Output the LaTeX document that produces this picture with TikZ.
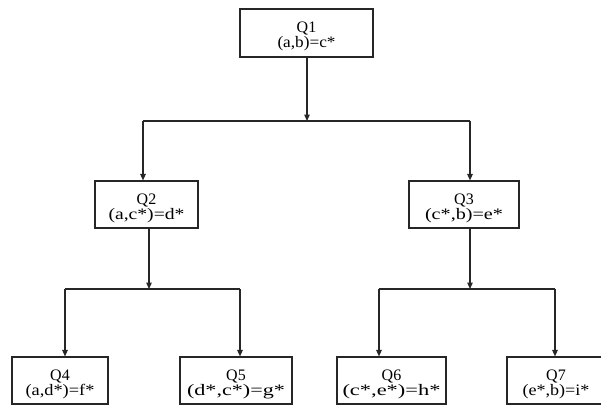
\documentclass[tikz,border=0pt]{standalone}
\usepackage{fontspec}
\setmainfont{Liberation Serif}
\usetikzlibrary{arrows.meta}
\newcommand{\fitw}[2]{\resizebox{#1}{\height}{#2}}
\begin{document}
\begin{tikzpicture}[x=1pt,y=-1pt,
  qbox/.style={draw=black!85,line width=1.1pt,inner sep=0pt,minimum height=47pt},
  qtxt/.style={align=center,inner sep=0pt,font=\fontsize{16}{15}\selectfont},
  conn/.style={draw=black!85,line width=1.3pt},
  arr/.style={conn,-{Triangle[width=5.5pt,length=6.5pt]}}]
\useasboundingbox (0,0) rectangle (601,404);
\node[qbox,minimum width=133pt,minimum height=48pt] (Q1) at (306.5,33) {};
\node[qbox,minimum width=103pt] (Q2) at (146.5,204.5) {};
\node[qbox,minimum width=110pt] (Q3) at (464,204.5) {};
\node[qbox,minimum width=96pt] (Q4) at (60,380.5) {};
\node[qbox,minimum width=112pt] (Q5) at (236,380.5) {};
\node[qbox,minimum width=109pt] (Q6) at (391.5,380.5) {};
\node[qbox,minimum width=98pt] (Q7) at (556,380.5) {};
\node[qtxt] (t1) at ([yshift=-3.5pt]Q1.center) {Q1\\\fitw{58pt}{(a,b)=c*}};
\node[qtxt] (t2) at ([yshift=-3.5pt]Q2.center) {Q2\\\fitw{76pt}{(a,c*)=d*}};
\node[qtxt] (t3) at ([yshift=-3.5pt]Q3.center) {Q3\\\fitw{78pt}{(c*,b)=e*}};
\node[qtxt] (t4) at ([yshift=-3.5pt]Q4.center) {Q4\\\fitw{69pt}{(a,d*)=f*}};
\node[qtxt] (t5) at ([yshift=-3.5pt]Q5.center) {Q5\\\fitw{98pt}{(d*,c*)=g*}};
\node[qtxt] (t6) at ([yshift=-3.5pt]Q6.center) {Q6\\\fitw{98pt}{(c*,e*)=h*}};
\node[qtxt] (t7) at ([yshift=-3.5pt]Q7.center) {Q7\\\fitw{67pt}{(e*,b)=i*}};
% junctions
\coordinate (j1) at (307,121);
\coordinate (j1l) at (143,121);
\coordinate (j1r) at (470,121);
\coordinate (j2) at (149,289);
\coordinate (j2l) at (65,289);
\coordinate (j2r) at (240,289);
\coordinate (j3) at (470,289);
\coordinate (j3l) at (379,289);
\coordinate (j3r) at (555,289);
% connectors
\draw[arr] (Q1.south -| j1) -- (j1);
\draw[conn] (j1l) -- (j1r);
\draw[arr] (j1l) -- (Q2.north -| j1l);
\draw[arr] (j1r) -- (Q3.north -| j1r);
\draw[arr] (Q2.south -| j2) -- (j2);
\draw[conn] (j2l) -- (j2r);
\draw[arr] (j2l) -- (Q4.north -| j2l);
\draw[arr] (j2r) -- (Q5.north -| j2r);
\draw[arr] (Q3.south -| j3) -- (j3);
\draw[conn] (j3l) -- (j3r);
\draw[arr] (j3l) -- (Q6.north -| j3l);
\draw[arr] (j3r) -- (Q7.north -| j3r);
\end{tikzpicture}
\end{document}
